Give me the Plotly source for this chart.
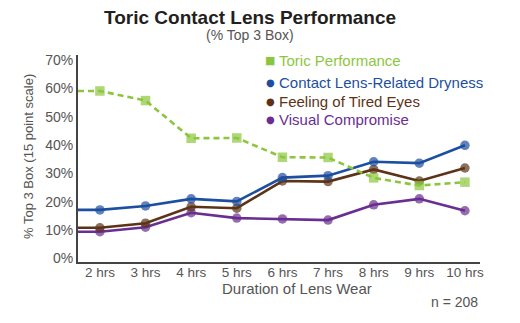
import plotly.graph_objects as go

categories = ["2 hrs", "3 hrs", "4 hrs", "5 hrs", "6 hrs", "7 hrs", "8 hrs", "9 hrs", "10 hrs"]
toric = [59.1, 55.7, 42.4, 42.5, 35.7, 35.6, 28.4, 25.7, 26.9]
dryness = [17.1, 18.5, 21.0, 20.1, 28.5, 29.2, 34.1, 33.6, 39.9]
tired = [10.8, 12.4, 18.2, 17.7, 27.3, 27.1, 31.4, 27.3, 31.9]
visual = [9.4, 11.0, 16.1, 14.2, 13.9, 13.5, 18.9, 21.0, 16.8]
y_ticks = [0, 10, 20, 30, 40, 50, 60, 70]

names = ["Toric Performance", "Contact Lens-Related Dryness", "Feeling of Tired Eyes", "Visual Compromise"]
colors = ["#8cc63f", "#1c4f9f", "#5c3317", "#6a2d90"]

X_RANGE = [-0.48, 8.33]
Y_RANGE = [-1.3, 71.8]
FONT = "Liberation Sans, Arial, sans-serif"

xs = list(range(len(categories)))
fig = go.Figure()

def add_series(vals, color, symbol, dash, size):
    x = [X_RANGE[0]] + xs
    y = [vals[0]] + vals
    sizes = [0] + [size] * len(vals)
    fig.add_trace(go.Scatter(
        x=x, y=y, mode="lines+markers",
        line=dict(color=color, width=2.6, dash=dash),
        marker=dict(color=color, size=sizes, symbol=symbol, line=dict(width=0)),
        showlegend=False, hoverinfo="skip",
    ))

add_series(visual, colors[3], "circle", "solid", 9.5)
add_series(tired, colors[2], "circle", "solid", 9.5)
add_series(dryness, colors[1], "circle", "solid", 9.5)
add_series(toric, colors[0], "square", "6px,4px", 9.5)

L, R, T, B = 78, 40, 55, 61
W, H = 520, 323
pw, ph = W - L - R, H - T - B

def px(xp):
    return (xp - L) / pw

def py(yp):
    return (H - B - yp) / ph

annotations = [
    dict(text="<b>Toric Contact Lens Performance</b>", x=px(250), y=py(17), xref="paper", yref="paper",
         showarrow=False, font=dict(size=19, color="#231f20", family=FONT), xanchor="center", yanchor="middle"),
    dict(text="(% Top 3 Box)", x=px(250), y=py(35), xref="paper", yref="paper",
         showarrow=False, font=dict(size=14, color="#555555", family=FONT), xanchor="center", yanchor="middle"),
    dict(text="Duration of Lens Wear", x=px(297), y=py(288), xref="paper", yref="paper",
         showarrow=False, font=dict(size=15, color="#555555", family=FONT), xanchor="center", yanchor="middle"),
    dict(text="n = 208", x=px(480), y=py(302), xref="paper", yref="paper",
         showarrow=False, font=dict(size=14, color="#555555", family=FONT), xanchor="right", yanchor="middle"),
    dict(text="% Top 3 Box (15 point scale)", x=px(28), y=py(157), xref="paper", yref="paper", textangle=-90,
         showarrow=False, font=dict(size=13, color="#555555", family=FONT), xanchor="center", yanchor="middle"),
]

leg_y = [60, 82, 101, 119]
glyphs = ["■", "●", "●", "●"]
gsize = [11, 10, 10, 10]
for name, color, yy, g, gs in zip(names, colors, leg_y, glyphs, gsize):
    annotations.append(dict(text=g, x=px(270), y=py(yy), xref="paper", yref="paper", showarrow=False,
                            font=dict(size=gs, color=color, family="DejaVu Sans"), xanchor="center", yanchor="middle"))
    annotations.append(dict(text=name, x=px(277), y=py(yy), xref="paper", yref="paper", showarrow=False,
                            font=dict(size=15, color=color, family=FONT), xanchor="left", yanchor="middle"))

fig.update_layout(
    width=W, height=H,
    margin=dict(l=L, r=R, t=T, b=B, pad=0),
    paper_bgcolor="white", plot_bgcolor="white",
    font=dict(family=FONT, color="#555555"),
    annotations=annotations,
    xaxis=dict(range=X_RANGE, tickvals=xs, ticktext=categories, showgrid=False, zeroline=False,
               showline=True, linecolor="#444444", linewidth=2, ticks="", ticklen=0,
               ticklabelstandoff=-3,
               tickfont=dict(size=13.5, color="#555555", family=FONT)),
    yaxis=dict(range=Y_RANGE, tickvals=y_ticks, ticktext=[f"{v}%" for v in y_ticks], showgrid=False,
               zeroline=False, showline=True, linecolor="#444444", linewidth=2, ticks="",
               tickfont=dict(size=14, color="#555555", family=FONT)),
)

fig.write_html("out.html")
